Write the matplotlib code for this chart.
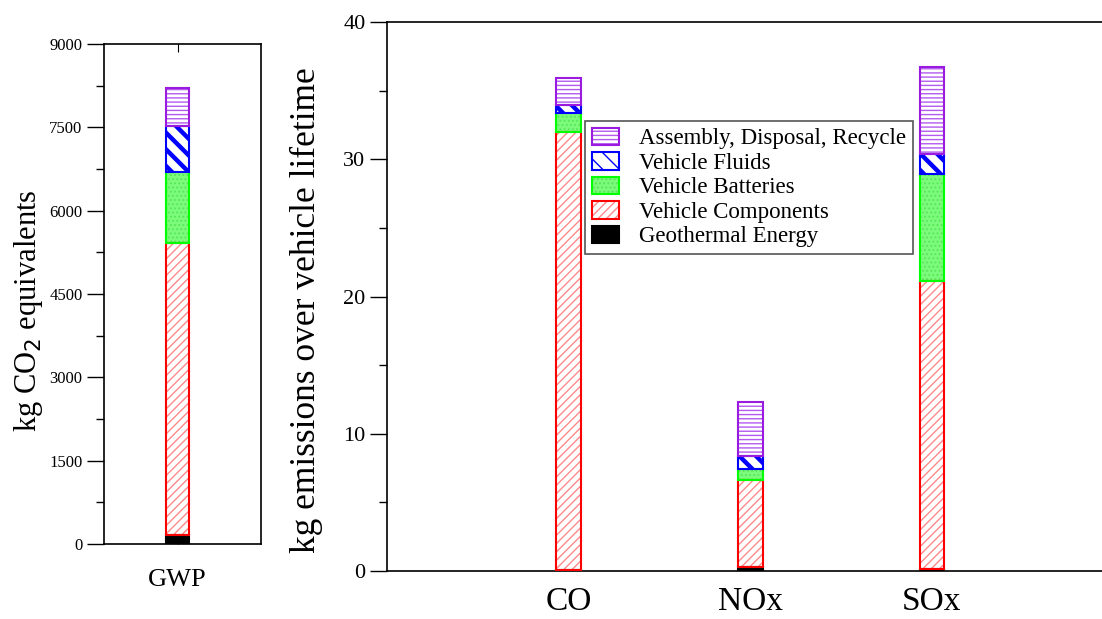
import matplotlib
matplotlib.use("Agg")
import matplotlib.pyplot as plt
from matplotlib.legend_handler import HandlerTuple
import numpy as np

plt.rcParams['font.family'] = ['Liberation Serif', 'DejaVu Serif']
plt.rcParams['hatch.linewidth'] = 1.0

# ---- data ----
gwp_cat = ["GWP"]
gwp_geothermal = [160]
gwp_components = [5260]
gwp_batteries = [1280]
gwp_fluids = [820]
gwp_assembly = [680]

em_cats = ["CO", "NOx", "SOx"]
em_geothermal = [0.05, 0.3, 0.15]
em_components = [31.95, 6.3, 21.0]
em_batteries = [1.4, 0.8, 7.77]
em_fluids = [0.55, 1.0, 1.43]
em_assembly = [1.95, 3.95, 6.39]

series_names = ["Geothermal Energy", "Vehicle Components", "Vehicle Batteries",
                "Vehicle Fluids", "Assembly, Disposal, Recycle"]
# (face, hatch colour, hatch, outline colour, hatch linewidth)
styles = [
    ("black", "black", None, "black", 1.0),
    ("white", "#FF8A8A", "////", "#FF0000", 1.0),
    ("#7CFA7C", "#55E855", "....", "#00FF00", 0.8),
    ("white", "#0000FF", "\\\\", "#0000FF", 3.2),
    ("white", "#B45AF0", "----", "#9A1AE0", 1.0),
]

fig = plt.figure(figsize=(11.02, 6.19), dpi=100)
ax1 = fig.add_axes([0.0944, 0.1212, 0.1425, 0.8078])
ax2 = fig.add_axes([0.3512, 0.0775, 0.6593, 0.8870])


def stacked(ax, x, series, width):
    bottom = np.zeros(len(x))
    handles = []
    for vals, (fc, hc, h, oc, hlw) in zip(series, styles):
        vals = np.asarray(vals, dtype=float)
        with plt.rc_context({'hatch.linewidth': hlw}):
            b1 = ax.bar(x, vals, width, bottom=bottom, color=fc, edgecolor=hc,
                        hatch=h, linewidth=0, zorder=2)
        for p in b1.patches:
            if hasattr(p, 'set_hatch_linewidth'):
                p.set_hatch_linewidth(hlw)
            else:
                p._hatch_linewidth = hlw
        b2 = ax.bar(x, vals, width, bottom=bottom, fill=False, edgecolor=oc,
                    linewidth=1.5, zorder=3)
        handles.append((b1.patches[0], b2.patches[0]))
        bottom = bottom + vals
    return handles


# ---- left panel ----
x1 = np.array([0.468])
stacked(ax1, x1, [gwp_geothermal, gwp_components, gwp_batteries, gwp_fluids, gwp_assembly], 0.146)
ax1.set_xlim(0, 1)
ax1.set_ylim(0, 9000)
ax1.set_yticks(np.arange(0, 9001, 1500))
ax1.set_yticks(np.arange(0, 9001, 750), minor=True)
ax1.tick_params(axis='y', which='major', direction='out', length=12, width=1, labelsize=12)
ax1.tick_params(axis='y', which='minor', direction='out', length=6, width=1)
ax1.set_xticks(x1)
ax1.set_xticklabels(gwp_cat, fontsize=19)
ax1.tick_params(axis='x', direction='in', top=True, length=6, pad=18)
ax1.set_ylabel("kg CO$_2$ equivalents", fontsize=22)
ax1.yaxis.set_label_coords(-0.376, 0.466)

# ---- right panel ----
x2 = np.arange(1, len(em_cats) + 1)
handles = stacked(ax2, x2, [em_geothermal, em_components, em_batteries, em_fluids, em_assembly], 0.136)
ax2.set_xlim(0, 4)
ax2.set_ylim(0, 40)
ax2.set_yticks(np.arange(0, 41, 10))
ax2.set_yticks(np.arange(0, 41, 5), minor=True)
ax2.tick_params(axis='y', which='major', direction='out', length=12, width=1, labelsize=16)
ax2.tick_params(axis='y', which='minor', direction='out', length=6, width=1)
ax2.set_xticks(x2)
ax2.set_xticklabels(em_cats, fontsize=24)
ax2.tick_params(axis='x', length=0, pad=11)
ax2.set_ylabel("kg emissions over vehicle lifetime", fontsize=25.5)
ax2.yaxis.set_label_coords(-0.088, 0.475)

leg_order = [4, 3, 2, 1, 0]
leg = ax2.legend([handles[i] for i in leg_order], [series_names[i] for i in leg_order],
                 handler_map={tuple: HandlerTuple(ndivide=1)},
                 loc='upper left', bbox_to_anchor=(0.2725, 0.82), fontsize=16.5,
                 frameon=True, fancybox=False, edgecolor='#555555', framealpha=1,
                 handlelength=1.2, handleheight=0.8, labelspacing=0.12,
                 borderpad=0.3, handletextpad=0.87, borderaxespad=0)
leg.get_frame().set_linewidth(1.2)

for ax in (ax1, ax2):
    for s in ax.spines.values():
        s.set_linewidth(1.2)

fig.savefig("out.png", dpi=100)
